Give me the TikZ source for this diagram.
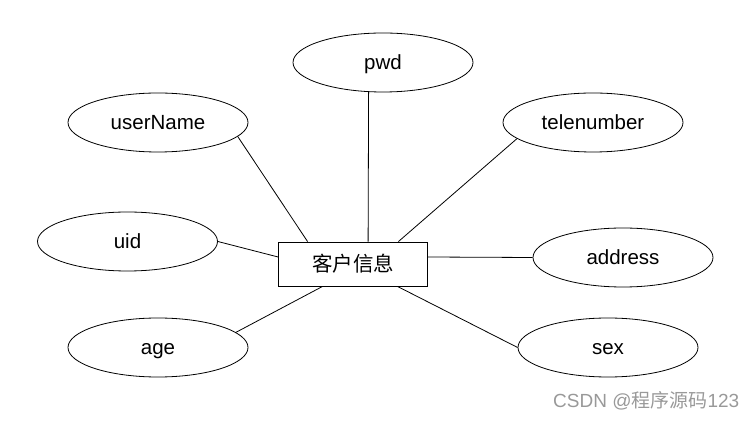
\documentclass[tikz,border=0pt]{standalone}
\usepackage{fontspec}
\setmainfont{Liberation Sans}
\newfontfamily\cjk{Noto Sans CJK SC}
\usetikzlibrary{shapes.geometric}
\begin{document}
\begin{tikzpicture}[x=1pt,y=-1pt,
  attr/.style={draw, line width=0.8pt, ellipse, minimum width=180pt, minimum height=59pt, inner sep=0pt, text height=18pt, text depth=3pt, font=\fontsize{20.5}{24}\selectfont},
  ent/.style={draw, line width=0.8pt, rectangle, minimum width=149pt, minimum height=44pt, inner sep=0pt, font=\cjk\fontsize{20.5}{24}\selectfont},
  link/.style={line width=0.8pt}]
\useasboundingbox (0,0) rectangle (756,427);
\node[ent] (r) at (353,264) {客户信息};
\node[attr] (pwd) at (383,62.5) {pwd};
\node[attr] (userName) at (158,122.5) {userName};
\node[attr] (tele) at (593,122.5) {telenumber};
\node[attr] (uid) at (127.5,241.5) {uid};
\node[attr] (address) at (623,257.5) {address};
\node[attr] (age) at (158,347.5) {age};
\node[attr] (sex) at (608,347.5) {sex};
\draw[link] (userName.-10.8) -- ([xshift=29.5pt]r.north west);
\draw[link] (pwd.-116) -- ([xshift=90pt]r.north west);
\draw[link] (tele.-168.5) -- ([xshift=-29.5pt]r.north east);
\draw[link] (uid.0) -- ([yshift=7pt]r.west);
\draw[link] (address.180) -- ([yshift=7pt]r.east);
\draw[link] (age.11.4) -- ([xshift=44.5pt]r.south west);
\draw[link] (sex.180) -- ([xshift=-30.5pt]r.south east);
\node[anchor=west, inner sep=0pt, text=black!40, font=\fontsize{19}{22}\selectfont] (wm) at (553,401) {CSDN @{\cjk 程序源码}123};
\end{tikzpicture}
\end{document}
